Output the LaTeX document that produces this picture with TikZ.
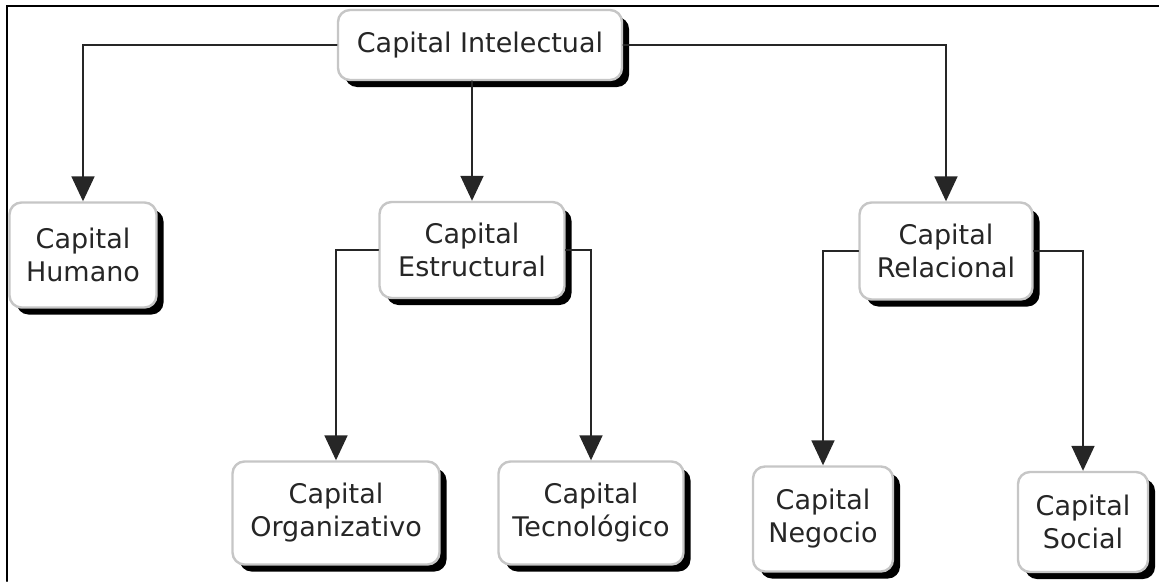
\documentclass[tikz,border=0pt]{standalone}
\usepackage{fontspec}
\setmainfont{DejaVu Sans}
\usetikzlibrary{shadows,arrows.meta}
\begin{document}
\begin{tikzpicture}[x=1pt,y=-1pt,line cap=round,>={Triangle[width=23pt,length=25pt]},
	capbox/.style={draw=gray!45, line width=2.4pt, rounded corners=12pt, fill=white,
		align=center, inner sep=0pt, text=black!85,
		font=\fontsize{27}{33}\selectfont,
		drop shadow={shadow xshift=7pt, shadow yshift=-7pt, fill=black, opacity=1}},
	link/.style={draw=black!85, line width=1.8pt, ->}]
	\useasboundingbox (0,0) rectangle (1159,581);
	\draw [line width=2.5pt] (7,581) -- (7,6) -- (1159,6);

	\node [capbox, minimum width=284, minimum height=70] (ci) at (480,45) {Capital Intelectual};

	\node [capbox, minimum width=147, minimum height=105] (hum) at (83,255) {Capital\\Humano};
	\node [capbox, minimum width=185, minimum height=96] (est) at (472,250) {Capital\\Estructural};
	\node [capbox, minimum width=173, minimum height=97] (rel) at (946,251) {Capital\\Relacional};

	\node [capbox, minimum width=207, minimum height=103] (org) at (336,513) {Capital\\Organizativo};
	\node [capbox, minimum width=185, minimum height=103] (tec) at (591,513) {Capital\\Tecnológico};
	\node [capbox, minimum width=140, minimum height=105] (neg) at (823,519) {Capital\\Negocio};
	\node [capbox, minimum width=130, minimum height=100] (soc) at (1083,522) {Capital\\Social};

	\draw [link] (ci.west) -| (hum.north);
	\draw [link] (ci.south -| est.north) -- (est.north);
	\draw [link] (ci.east) -| (rel.north);

	\draw [link] (est.west) -| (org.north);
	\draw [link] (est.east) -| (tec.north);
	\draw [link] (rel.west) -| (neg.north);
	\draw [link] (rel.east) -| (soc.north);
\end{tikzpicture}
\end{document}
